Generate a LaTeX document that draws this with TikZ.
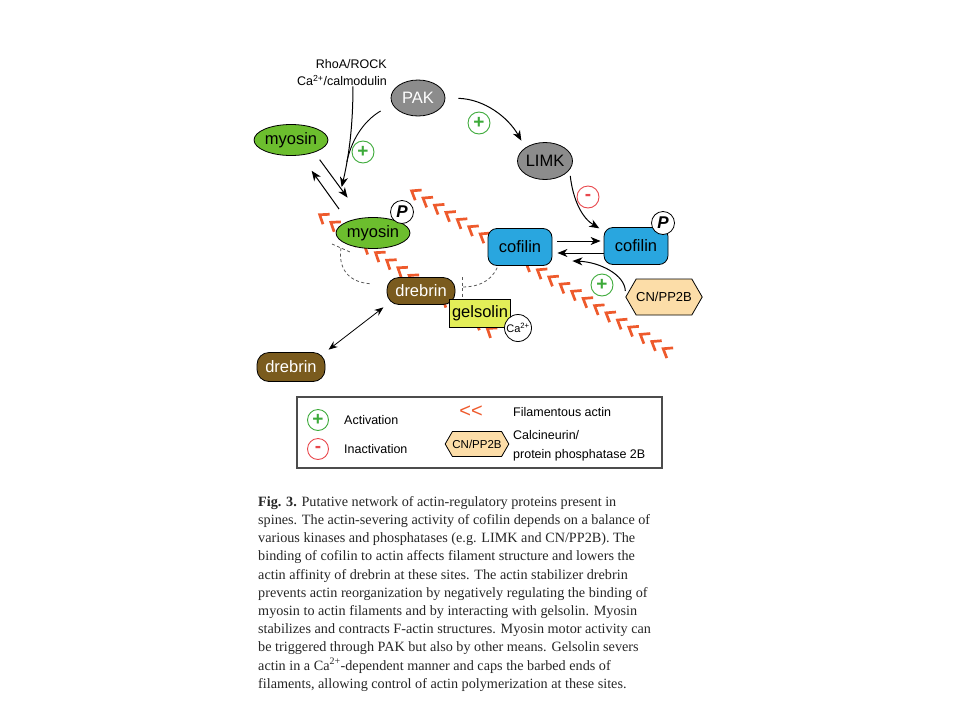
\documentclass[tikz,border=0pt]{standalone}
\usepackage{fontspec}
\setmainfont{Liberation Serif}
\setsansfont{Liberation Sans}
\usetikzlibrary{positioning,calc,arrows.meta,shapes.geometric,shapes.symbols,decorations.markings}

\definecolor{myogreen}{HTML}{6CBE2E}
\definecolor{kingray}{HTML}{8C8C8C}
\definecolor{cofblue}{HTML}{29A6DF}
\definecolor{drebbrown}{HTML}{7A5B1E}
\definecolor{gelyellow}{HTML}{E3EE58}
\definecolor{cnpeach}{HTML}{FCDDA8}
\definecolor{actinred}{HTML}{EE5A2C}
\definecolor{actgreen}{HTML}{3DAA3A}
\definecolor{inactred}{HTML}{E8474C}

\tikzset{
  prot/.style={draw, line width=0.8pt, inner sep=0pt, font=\sffamily\fontsize{16.5}{18}\selectfont},
  myonode/.style={prot, ellipse, fill=myogreen, minimum width=72pt, minimum height=31pt},
  kinnode/.style={prot, ellipse, fill=kingray, minimum width=54pt, minimum height=36pt},
  cofnode/.style={prot, rounded corners=9pt, fill=cofblue, minimum width=64pt, minimum height=37pt},
  drebnode/.style={prot, rounded corners=12pt, fill=drebbrown, text=white, minimum width=68pt, minimum height=27pt},
  gelnode/.style={prot, fill=gelyellow, minimum width=61pt, minimum height=28pt},
  cnnode/.style={signal, signal to=east and west, signal pointer angle=120, draw, line width=0.8pt,
    fill=cnpeach, inner sep=0pt, font=\sffamily\fontsize{13}{13}\selectfont},
  phos/.style={circle, draw, fill=white, line width=0.8pt, inner sep=0pt, minimum size=23pt,
    font=\sffamily\bfseries\itshape\fontsize{17}{17}\selectfont},
  actsign/.style={circle, draw=actgreen, text=actgreen, line width=0.9pt, inner sep=0pt,
    minimum size=22pt, font=\sffamily\bfseries\fontsize{19}{19}\selectfont},
  inactsign/.style={circle, draw=inactred, text=inactred, line width=0.9pt, inner sep=0pt,
    minimum size=22pt, font=\sffamily\bfseries\fontsize{19}{19}\selectfont},
  legtext/.style={inner sep=0pt, font=\sffamily\fontsize{12.5}{19}\selectfont},
  rxn/.style={-{Stealth[length=10pt, width=8pt, inset=3pt]}, line width=1pt},
  bind/.style={{Stealth[length=9pt, width=7pt, inset=3pt]}-{Stealth[length=9pt, width=7pt, inset=3pt]}, line width=0.8pt},
  inhib/.style={dashed, dash pattern=on 3pt off 2.5pt, gray!70!black, line width=0.8pt},
  actin/.style={decorate, decoration={markings,
    mark=between positions 0 and 1 step 13.5pt with {\draw[actinred, line width=2.7pt, line join=miter]
      (4pt,6pt) -- (-4pt,0pt) -- (4pt,-6pt);}}}
}

\begin{document}
\begin{tikzpicture}[x=1pt,y=-1pt]
\useasboundingbox (0,0) rectangle (960,720);

% actin filaments
\path[actin] (415,193) -- (670,353);
\path[actin] (323,217) -- (497,335);

% proteins
\node[anchor=east, align=right, inner sep=0pt, font=\sffamily\fontsize{12.5}{17}\selectfont] (rho) at (387,73) {RhoA/ROCK\\Ca\textsuperscript{2+}/calmodulin};
\node[kinnode, text=white] (pak) at (418,98) {PAK};
\node[kinnode, minimum width=55pt, minimum height=37pt] (limk) at (545,161) {LIMK};
\node[myonode] (myo) at (291,140) {myosin};
\node[myonode] (myop) at (373,233) {myosin};
\node[phos] (myoP) at (402,212) {P};
\node[cofnode] (cof) at (520,247) {cofilin};
\node[cofnode] (cofp) at (636,246) {cofilin};
\node[phos] (cofP) at (663,223) {P};
\node[cnnode, minimum width=65pt, minimum height=36pt] (cn) at (664,297) {CN/PP2B};
\node[drebnode] (dreb) at (421,291) {drebrin};
\node[gelnode] (gel) at (480,313) {gelsolin};
\node[circle, draw, fill=white, line width=0.8pt, minimum size=27pt, inner sep=0pt, font=\sffamily\fontsize{11}{11}\selectfont] (ca) at (518,328) {Ca\textsuperscript{2+}};
\node[drebnode, minimum height=29pt] (dreb2) at (291,367) {drebrin};

\node[actsign] (actA) at (363,152) {+};
\node[actsign] (actB) at (479,123) {+};
\node[inactsign] (inact) at (588,197) {-};
\node[actsign] (actC) at (602,285) {+};

% reactions
\draw[rxn, shorten <=13pt, shorten >=8pt] (pak.east) .. controls (484,99) and (508,117) .. (limk.north west);
\draw[rxn, shorten <=6pt, shorten >=5pt] (limk.-20) .. controls (573,200) and (582,218) .. (cofp.155);
\draw[rxn, shorten <=5pt, shorten >=3pt] ([yshift=6pt]cof.east) -- ([yshift=6pt]cof.east -| cofp.west);
\draw[rxn, shorten >=5pt] ([yshift=-6pt]cof.east -| cofp.west) -- ([yshift=-6pt]cof.east);
\draw[rxn, shorten <=2pt] ([yshift=4pt]cn.west) .. controls (625,275) and (600,262) .. ([xshift=20pt, yshift=-14pt]cof.east);

\draw[rxn, shorten <=15pt, shorten >=19pt] (myop.155) -- (myo.-58);
\draw[rxn, shorten <=9pt, shorten >=25pt] (myo.-28) -- (myop.125);
\coordinate (myoact) at ($(myo.-28)!0.56!(myop.125)$);
\draw[rxn, shorten >=2pt] ([xshift=11pt]rho.south) .. controls (353,130) and (348,160) .. (myoact) coordinate[pos=0.7] (merge);
\draw[line width=0.9pt] ([shift={(-10pt,-13pt)}]pak.west) .. controls (362,122) and (351,142) .. (merge);

\draw[bind, shorten <=4pt, shorten >=4pt] (dreb.south west) -- (dreb2.north east);

% negative regulation
\coordinate (myobar) at ([xshift=-32pt, yshift=-15pt]myop.center);
\draw[inhib] ([shift={(-9pt,4pt)}]myobar) -- ([shift={(9pt,-4pt)}]myobar);
\draw[inhib, shorten <=17pt] ([yshift=6pt]dreb.west) .. controls (348,282) and (338,268) .. (myobar);
\coordinate (drebbar) at ([xshift=7pt, yshift=4pt]dreb.east);
\draw[inhib] ([yshift=10pt]drebbar) -- ([yshift=-10pt]drebbar);
\draw[inhib, shorten <=2pt] ([xshift=-22pt]cof.south) .. controls (490,283) and (476,287) .. (drebbar);

% legend
\draw[black!70, line width=1.2pt] (297,397) rectangle (662,468);
\node[actsign, minimum size=21pt] (keyact) at (318,420) {+};
\node[legtext, anchor=west] (keyacttxt) at (344,420) {Activation};
\node[inactsign, minimum size=21pt] (keyinact) at (318,449) {-};
\node[legtext, anchor=west] (keyinacttxt) at (344,449) {Inactivation};
\node[text=actinred, inner sep=0pt, font=\sffamily\fontsize{20}{20}\selectfont] (keyactin) at (471,412) {<{}<};
\node[legtext, anchor=west] (keyactintxt) at (513,412) {Filamentous actin};
\node[cnnode, minimum width=51pt, minimum height=25pt, font=\sffamily\fontsize{11.5}{11.5}\selectfont] (keycn) at (477,444) {CN/PP2B};
\node[legtext, anchor=west, align=left] (keycntxt) at (513,446) {Calcineurin/\\protein phosphatase 2B};

% caption
\node[anchor=north west, align=left, inner sep=0pt, text=black!85, font=\fontsize{14.2}{18.2}\selectfont] (caption) at (258,496) {%
\textbf{Fig. 3.} Putative network of actin-regulatory proteins present in\\
spines. The actin-severing activity of cofilin depends on a balance of\\
various kinases and phosphatases (e.g. LIMK and CN/PP2B). The\\
binding of cofilin to actin affects filament structure and lowers the\\
actin affinity of drebrin at these sites. The actin stabilizer drebrin\\
prevents actin reorganization by negatively regulating the binding of\\
myosin to actin filaments and by interacting with gelsolin. Myosin\\
stabilizes and contracts F-actin structures. Myosin motor activity can\\
be triggered through PAK but also by other means. Gelsolin severs\\
actin in a Ca\textsuperscript{2+}-dependent manner and caps the barbed ends of\\
filaments, allowing control of actin polymerization at these sites.};
\end{tikzpicture}
\end{document}
